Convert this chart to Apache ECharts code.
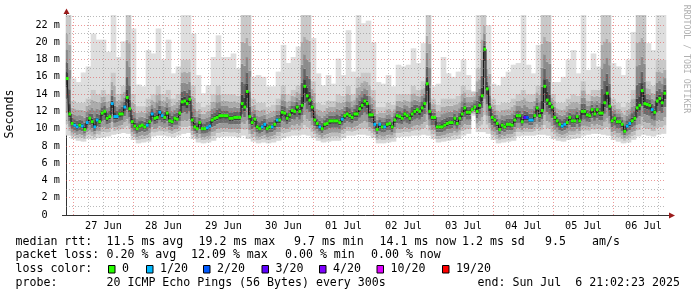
<!DOCTYPE html>
<html><head><meta charset="utf-8">
<script src="https://cdn.jsdelivr.net/npm/echarts@6/dist/echarts.min.js"></script>
<style>html,body{margin:0;padding:0;background:#fff}#c{width:697px;height:297px}</style>
</head><body><div id="c"></div>
<script>
// ---- data ----
const dayLabels = ['27 Jun','28 Jun','29 Jun','30 Jun','01 Jul','02 Jul','03 Jul','04 Jul','05 Jul','06 Jul'];
const yTicks = [0,2,4,6,8,10,12,14,16,18,20,22];
const endClock = [21, 2, 23];      // end: Sun Jul 6 21:02:23 2025
const spanHours = 240;             // 10 days, 1 h steps for median
const Y_MAX = 23.16;

// median RTT (ms), one value per hour
const median = [
15.8,11.7,10.6,10.4,10.2,10.4,10.3,9.9,10.7,11.2,
10.8,10.2,11.0,10.8,11.8,12.0,11.2,11.4,12.9,11.4,
11.4,11.7,11.7,12.5,13.6,12.3,10.8,10.3,10.0,10.3,
10.4,10.2,10.4,10.8,11.7,11.2,11.3,11.9,11.5,11.3,
11.8,10.9,10.8,11.2,11.1,11.8,13.1,13.2,12.9,13.4,
11.0,10.2,10.0,10.7,10.0,10.0,10.1,10.3,11.0,11.2,
11.3,11.5,11.5,11.5,11.5,11.2,11.2,11.3,11.3,11.3,
12.9,12.5,14.3,11.4,10.7,11.1,10.2,10.0,10.2,10.5,
10.0,10.2,10.2,10.5,11.0,11.0,11.9,11.8,11.2,11.6,
12.1,12.0,12.5,12.0,12.7,14.9,13.8,13.3,12.5,11.0,
10.6,10.2,10.0,10.5,10.6,10.9,10.9,10.9,10.9,10.7,
11.1,11.5,11.7,11.5,11.3,11.7,11.7,12.3,12.7,13.2,
12.9,11.6,11.6,10.5,9.9,10.5,10.2,10.2,10.5,10.6,
10.2,11.0,11.5,11.4,11.2,11.7,11.5,11.2,11.7,12.0,
12.2,12.0,12.4,12.9,15.2,12.0,11.3,11.3,10.2,10.2,
10.2,10.4,10.6,10.7,10.7,11.2,10.6,11.2,11.7,12.4,
11.9,11.9,12.2,12.5,12.0,12.7,13.8,19.2,14.6,12.5,
11.3,11.0,10.6,9.9,10.4,10.2,10.5,10.5,10.4,11.0,
11.5,11.5,10.8,11.3,11.3,11.0,11.0,11.5,12.4,11.5,
12.1,14.9,13.3,12.9,12.5,11.3,10.9,10.5,10.3,10.5,
10.7,11.3,10.9,10.9,11.4,10.9,12.0,12.0,11.6,11.5,
12.2,11.7,12.2,11.8,11.8,13.0,14.1,12.6,10.9,11.2,
10.8,10.8,10.5,9.7,10.3,10.6,10.9,11.2,12.4,12.7,
14.4,12.9,12.8,12.7,12.2,11.9,13.2,13.5,13.0,14.1
];
// [hour index, lost pings out of 20]
const lossEvents = [[3,1],[4,1],[6,1],[8,1],[11,1],[12,1],[18,1],[19,1],[20,1],[23,1],
[32,1],[34,1],[37,1],[38,1],[56,1],[57,1],[78,1],[79,1],[82,1],[84,1],[101,1],[110,1],
[123,1],[125,1],[127,1],[183,3],[184,2],[185,1],[186,1],[198,1],[199,1],[224,1],[225,1],[234,1]];
const lossLegend = [['0','#26ff00'],['1/20','#00b8ff'],['2/20','#0059ff'],['3/20','#5e00ff'],['4/20','#7e00ff'],['10/20','#dd00ff'],['19/20','#ff0000']];
const lossColor = {0:'#26ff00',1:'#00b8ff',2:'#0059ff',3:'#5e00ff',4:'#7e00ff',10:'#dd00ff',19:'#ff0000'};

// smoke, one value per 2 hours: lowest ping, top of dense smoke, highest ping
const smokeLo = [
9.2,8.8,8.6,8.5,8.8,8.7,8.9,9.0,9.1,9.3,
9.4,9.5,9.4,8.7,8.3,8.4,8.5,9.1,9.2,9.2,
9.1,9.0,9.2,9.4,9.5,8.8,8.4,8.3,8.4,8.6,
9.0,9.1,9.1,9.1,9.0,9.2,8.8,8.5,8.3,8.4,
8.3,8.4,8.6,8.9,9.1,9.2,9.2,9.3,9.2,8.9,
8.6,8.4,8.5,8.6,8.6,8.9,9.2,9.2,9.3,9.3,
9.2,8.9,8.3,8.3,8.4,8.5,9.0,9.1,9.1,9.2,
9.2,9.3,9.2,8.8,8.4,8.5,8.6,8.7,8.8,9.2,
9.4,11.5,9.6,9.6,9.4,8.7,8.3,8.4,8.5,8.6,
9.1,9.2,9.2,9.2,9.3,9.3,9.2,8.8,8.6,8.5,
8.7,8.8,8.9,9.2,9.3,9.4,9.4,9.3,9.2,8.7,
8.5,8.3,8.4,8.7,9.1,9.3,9.2,9.1,9.3,9.4];
const smokeUp = [
23.2,13.2,13.0,13.0,13.5,14.5,14.0,14.5,14.0,16.5,
14.0,15.0,23.2,14.0,12.6,12.6,13.5,14.0,15.0,14.0,
14.5,13.5,14.0,18.0,18.0,15.0,13.0,12.5,12.8,14.0,
15.0,14.0,14.0,14.0,13.8,23.2,23.2,13.5,13.0,13.0,
12.5,12.8,13.5,15.0,14.0,14.5,15.0,23.2,23.2,15.5,
13.0,12.8,13.2,13.2,14.0,13.8,15.0,14.0,16.0,16.5,
16.5,14.5,12.5,12.5,13.0,12.8,14.0,14.0,14.0,15.0,
14.5,15.5,23.2,13.5,12.8,13.5,13.5,13.5,13.8,15.0,
14.5,14.3,17.0,23.2,18.0,13.5,12.8,13.0,13.0,13.5,
14.0,14.5,14.0,14.0,15.0,23.2,23.2,14.0,13.0,13.0,
13.5,14.0,13.8,15.5,14.0,14.5,14.5,23.2,23.2,13.5,
13.0,12.5,13.0,14.5,23.2,23.2,15.5,15.0,18.0,18.0];
const smokeHi = [
23.2,15.8,15.4,16.5,17.2,21.0,20.3,20.3,18.9,23.2,
18.3,20.1,23.2,21.6,15.1,14.9,19.1,18.7,21.6,18.0,
20.3,16.4,17.2,23.2,23.2,21.0,16.2,14.1,15.0,18.3,
20.8,18.3,18.3,18.7,17.0,23.2,23.2,16.0,16.2,16.0,
14.9,14.9,16.6,19.7,17.6,18.3,19.5,23.2,23.2,20.5,
16.4,15.0,16.2,15.2,18.1,16.2,21.4,16.6,23.2,22.2,
22.5,20.0,15.4,15.2,16.2,14.9,17.4,17.2,17.4,19.3,
17.6,19.9,23.2,14.9,15.2,18.3,16.4,16.0,16.6,18.0,
16.2,14.3,23.2,23.2,22.0,15.2,15.0,16.0,16.6,17.4,
17.6,23.2,17.4,16.4,19.7,23.2,23.2,15.4,15.4,16.0,
18.0,19.1,16.4,23.2,16.8,18.7,17.2,23.2,23.2,17.6,
17.2,16.2,18.0,21.2,23.2,23.2,19.9,19.1,23.2,23.2];

// legend texts: [text, x]
const legendLine1 = [['median rtt:',15.5],['11.5 ms avg',106.5],['19.2 ms max',198.5],['9.7 ms min',294],['14.1 ms now',379.5],['1.2 ms sd',462],['9.5',545],['am/s',592]];
const legendLine2 = [['packet loss:',15.5],['0.20 % avg',106.5],['12.09 % max',191],['0.00 % min',285],['0.00 % now',371]];
const legendLine4 = [['probe:',15.5],['20 ICMP Echo Pings (56 Bytes) every 300s',106.5],['end: Sun Jul  6 21:02:23 2025',477.5]];
const lossBoxX = [108,146,203,261.5,319,376.5,442];

// ---- style: smoke shading bands (fraction of distance from median, colour) ----
const upperBands = [[0.10,'#3e3e3e'],[0.25,'#646464'],[0.45,'#8c8c8c'],[0.70,'#ababab'],[1.00,'#c8c8c8']];
const lowerBands = [[0.15,'#3e3e3e'],[0.35,'#6c6c6c'],[0.60,'#9a9a9a'],[0.80,'#bcbcbc'],[1.00,'#d8d8d8']];
const LIGHT = '#dedede';

// ---- build ----
const MONO = '"DejaVu Sans Mono", monospace';
const firstMidnight = 24 - (endClock[0] + endClock[1]/60 + endClock[2]/3600);
const noonHours = dayLabels.map((d,k) => firstMidnight + 12 + 24*k);

const lossArr = median.map(() => 0);
lossEvents.forEach(([i,l]) => { lossArr[i] = l; });

const smokeData = median.map((m,i) => {
  const j = i >> 1;
  return [i, i+1, smokeLo[j], m, smokeUp[j], smokeHi[j]];
});
const medSquares = median.map((m,i) => [i, i+1, m, lossArr[i]]);
const medLine = median.map((m,i) => [i+0.5, m]);

const minorStyle = {color:'rgba(130,130,130,0.55)', type:[1,2], width:1};
const majorStyle = {color:'rgba(222,70,70,0.55)', type:[1,2], width:1};
const gridLines = [];
for (let k=0; firstMidnight + 6*k <= spanHours; k++) {
  gridLines.push({xAxis: firstMidnight + 6*k, lineStyle: (k%4===0)? majorStyle : minorStyle});
}
for (let v=1; v<=Math.floor(Y_MAX); v++) {
  gridLines.push({yAxis: v, lineStyle: (v%2===0)? majorStyle : minorStyle});
}

function renderSmoke(params, api) {
  const x0 = api.value(0), x1 = api.value(1), lo = api.value(2), med = api.value(3);
  const hi = Math.min(api.value(5), Y_MAX);
  const up = Math.min(Math.max(api.value(4), med), hi);
  const xa = api.coord([x0, 0])[0] - 0.3, xb = api.coord([x1, 0])[0] + 0.3;
  const Y = (v) => api.coord([x0, v])[1];
  const rect = (v1, v2, color) => {
    const y1 = Y(v2), y2 = Y(v1);
    return {type:'rect', shape:{x:xa, y:y1, width:xb-xa, height:Math.max(0, y2-y1)}, style:{fill:color}};
  };
  const children = [rect(up, hi, LIGHT)];
  let prev = med;
  upperBands.forEach(([f,c]) => { const v = med + (up-med)*f; children.push(rect(prev, v, c)); prev = v; });
  prev = med;
  lowerBands.forEach(([f,c]) => { const v = med - (med-lo)*f; children.push(rect(v, prev, c)); prev = v; });
  return {type:'group', children};
}
function renderMed(params, api) {
  const p0 = api.coord([api.value(0), api.value(2)]), p1 = api.coord([api.value(1), api.value(2)]);
  return {type:'rect', shape:{x:p0[0]-0.1, y:p0[1]-1.5, width:p1[0]-p0[0]+0.2, height:3},
          style:{fill: lossColor[api.value(3)]}};
}

const txt = (text, x, y, size, extra) => Object.assign({type:'text', x:x, y:y, silent:true,
  style:{text:text, fill:'#000', font: size + 'px ' + MONO, verticalAlign:'middle', align:'left'}}, extra||{});

const graphics = [];
legendLine1.forEach(([t,x]) => graphics.push(txt(t, x, 241.5, 11.6)));
legendLine2.forEach(([t,x]) => graphics.push(txt(t, x, 255.2, 11.6)));
graphics.push(txt('loss color:', 15.5, 268.9, 11.6));
lossLegend.forEach(([t,c],k) => {
  graphics.push({type:'rect', silent:true, shape:{x:lossBoxX[k]+0.5, y:265.5, width:6.5, height:7.5},
    style:{fill:c, stroke:'#000', lineWidth:1}});
  graphics.push(txt(t, lossBoxX[k]+14, 268.9, 11.6));
});
legendLine4.forEach(([t,x]) => graphics.push(txt(t, x, 282.6, 11.6)));
graphics.push({type:'text', x:10, y:114, rotation:Math.PI/2, silent:true,
  style:{text:'Seconds', fill:'#000', font:'11.6px '+MONO, align:'center', verticalAlign:'middle'}});
graphics.push({type:'text', x:686.5, y:59, rotation:-Math.PI/2, silent:true,
  style:{text:'RRDTOOL / TOBI OETIKER', fill:'#b0b0b0', font:'8.2px '+MONO, align:'center', verticalAlign:'middle'}});
// axis extensions and arrows
graphics.push({type:'line', silent:true, shape:{x1:66.5,y1:215.5,x2:66.5,y2:12}, style:{stroke:'#333',lineWidth:1}});
graphics.push({type:'line', silent:true, shape:{x1:62,y1:215.5,x2:669,y2:215.5}, style:{stroke:'#333',lineWidth:1}});
graphics.push({type:'polygon', silent:true, shape:{points:[[66.5,8.5],[63.5,14],[69.5,14]]}, style:{fill:'#9b1c1c'}});
graphics.push({type:'polygon', silent:true, shape:{points:[[675,215.5],[669,212.5],[669,218.5]]}, style:{fill:'#9b1c1c'}});

const chart = echarts.init(document.getElementById('c'), null, {renderer:'canvas'});
chart.setOption({
  animation:false,
  backgroundColor:'#ffffff',
  grid:{left:66, right:31, top:15, bottom:82, containLabel:false},
  xAxis:{type:'value', min:0, max:spanHours,
    axisLine:{show:false}, axisTick:{show:false}, splitLine:{show:false},
    axisLabel:{customValues: noonHours, margin:6, color:'#000', fontFamily:MONO, fontSize:10.2,
      formatter:(v) => dayLabels[Math.round((v - noonHours[0]) / 24)] || ''}},
  yAxis:{type:'value', min:0, max:Y_MAX,
    axisLine:{show:false}, axisTick:{show:false}, splitLine:{show:false},
    axisLabel:{customValues: yTicks, margin:6, color:'#000', fontFamily:MONO, fontSize:10.2,
      formatter:(v) => v === 0 ? '0  ' : (v + ' m')}},
  series:[
    {type:'custom', name:'smoke', data:smokeData, renderItem:renderSmoke, encode:{x:[0,1], y:[2,5]}, z:2, silent:true},
    {type:'line', name:'grid', data:[[0,0]], showSymbol:false, lineStyle:{opacity:0}, z:3, silent:true,
      markLine:{silent:true, symbol:['none','none'], label:{show:false}, animation:false, data:gridLines}},
    {type:'line', name:'median', data:medLine, step:'middle', showSymbol:false, z:4, silent:true,
      lineStyle:{color:'#1a1a1a', width:1}},
    {type:'custom', name:'loss', data:medSquares, renderItem:renderMed, encode:{x:[0,1], y:2}, z:5, silent:true}
  ],
  graphic: graphics
});
</script></body></html>
